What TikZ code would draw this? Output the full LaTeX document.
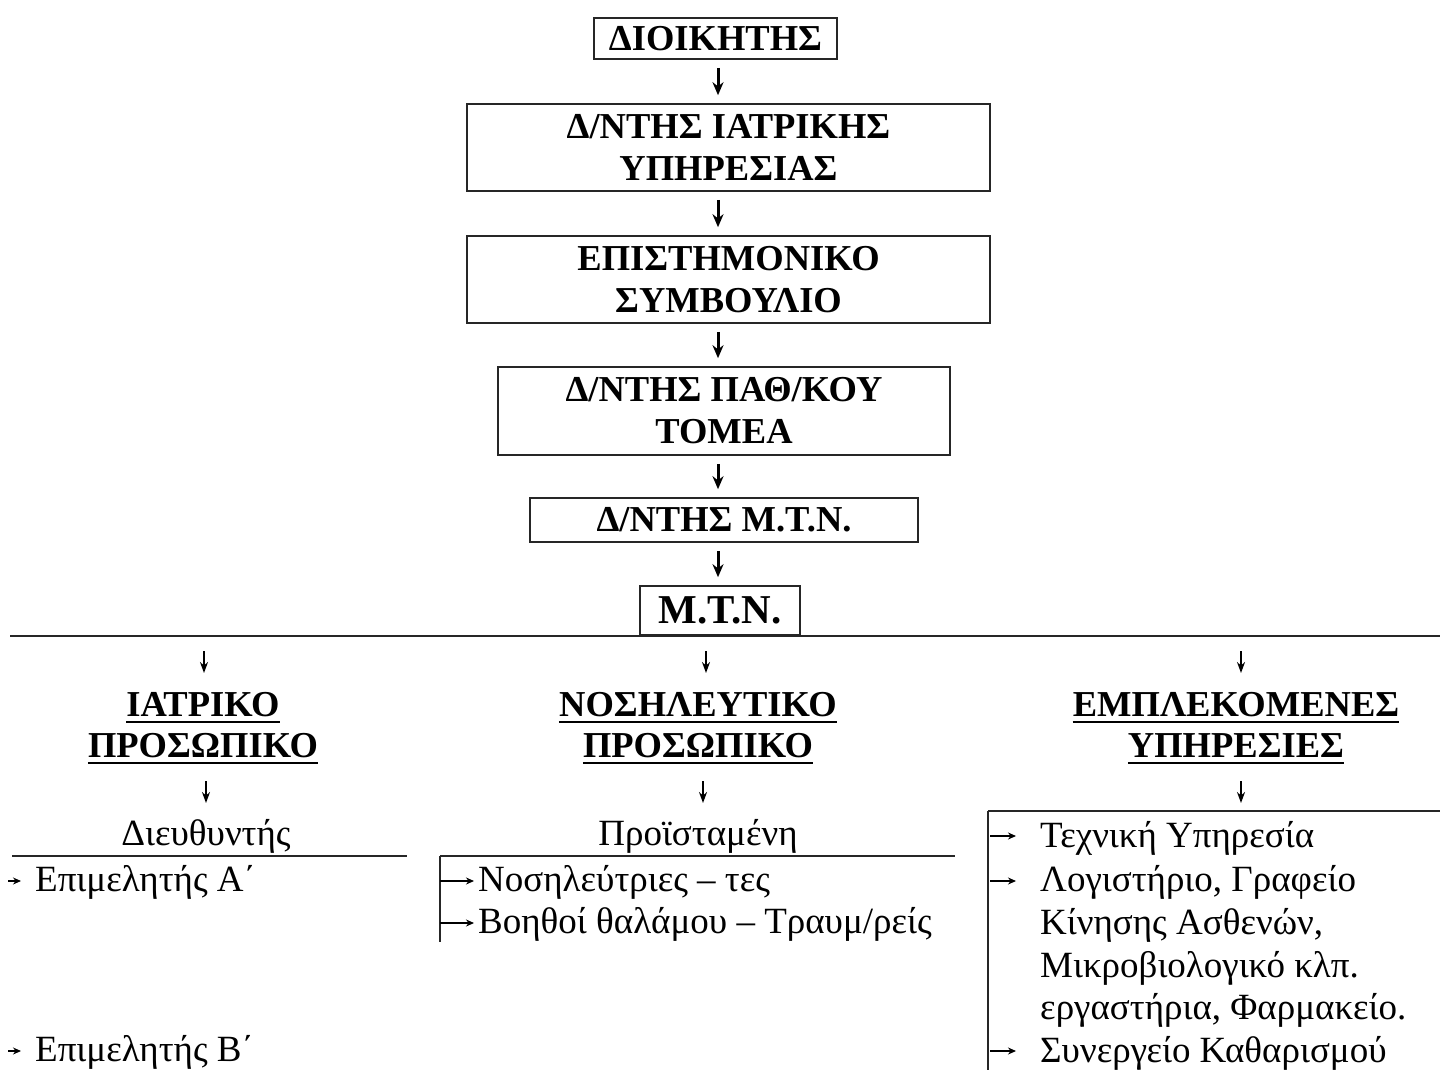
\documentclass[tikz,border=0pt]{standalone}
\usepackage{fontspec}
\setmainfont{Liberation Serif}
\usetikzlibrary{arrows.meta,calc}
\begin{document}
\begin{tikzpicture}[x=1pt,y=-1pt,
  box/.style={draw=black!85, line width=1.6pt, align=center, inner sep=0pt,
    font=\bfseries\fontsize{36.5}{42}\selectfont},
  head/.style={inner sep=0pt, anchor=base, font=\bfseries\fontsize{36.5}{42}\selectfont},
  txt/.style={inner sep=0pt, font=\fontsize{37}{42}\selectfont},
  arr/.style={-{Stealth[length=13pt,width=11pt]}, line width=3pt},
  arrthin/.style={-{Stealth[length=11pt,width=8pt]}, line width=1.8pt},
  bul/.style={-{Stealth[length=8pt,width=7pt]}, line width=1.2pt},
  rule/.style={line width=1.6pt, draw=black!85},
  ul/.style={line width=2.6pt}
]
\useasboundingbox (0,0) rectangle (1440,1070);
\fill[white] (0,0) rectangle (1440,1070);

% top chain
\coordinate (ax) at (718,0);
\node[box, minimum width=243, minimum height=41] (b1) at (715.5,38.5) {ΔΙΟΙΚΗΤΗΣ};
\node[box, minimum width=523, minimum height=87] (b2) at (728.5,147.5) {Δ/ΝΤΗΣ ΙΑΤΡΙΚΗΣ\\ΥΠΗΡΕΣΙΑΣ};
\node[box, minimum width=523, minimum height=87] (b3) at (728.5,279.5) {ΕΠΙΣΤΗΜΟΝΙΚΟ\\ΣΥΜΒΟΥΛΙΟ};
\node[box, minimum width=452, minimum height=88] (b4) at (724,411) {Δ/ΝΤΗΣ ΠΑΘ/ΚΟΥ\\ΤΟΜΕΑ};
\node[box, minimum width=388, minimum height=44] (b5) at (724,520) {Δ/ΝΤΗΣ Μ.Τ.Ν.};
\node[box, minimum width=160, minimum height=49, font=\bfseries\fontsize{41}{46}\selectfont] (b6) at (720,610.5) {Μ.Τ.Ν.};

\foreach \a/\b in {b1/b2,b2/b3,b3/b4,b4/b5,b5/b6}
  \draw[arr, shorten <=8pt, shorten >=8pt] (\a.south -| ax) -- (\b.north -| ax);

% horizontal divider
\coordinate (hl) at (10,636);
\coordinate (hr) at (1440,636);
\draw[rule] (hl) -- (hr);

% arrows to headings
\coordinate (a1s) at (204,651); \coordinate (a1e) at (204,673);
\coordinate (a2s) at (706,651); \coordinate (a2e) at (706,673);
\coordinate (a3s) at (1241,651); \coordinate (a3e) at (1241,673);
\draw[arrthin] (a1s) -- (a1e);
\draw[arrthin] (a2s) -- (a2e);
\draw[arrthin] (a3s) -- (a3e);

% headings
\node[head] (h1a) at (203,716) {ΙΑΤΡΙΚΟ};
\node[head] (h1b) at (203,757) {ΠΡΟΣΩΠΙΚΟ};
\node[head] (h2a) at (698,716) {ΝΟΣΗΛΕΥΤΙΚΟ};
\node[head] (h2b) at (698,757) {ΠΡΟΣΩΠΙΚΟ};
\node[head] (h3a) at (1236,716) {ΕΜΠΛΕΚΟΜΕΝΕΣ};
\node[head] (h3b) at (1236,757) {ΥΠΗΡΕΣΙΕΣ};
\foreach \n in {h1a,h1b,h2a,h2b,h3a,h3b}
  \draw[ul] ([yshift=-6pt]\n.base west) -- ([yshift=-6pt]\n.base east);

% arrows below headings
\coordinate (c1s) at (206,781); \coordinate (c1e) at (206,803);
\coordinate (c2s) at (703,781); \coordinate (c2e) at (703,803);
\coordinate (c3s) at (1241,781); \coordinate (c3e) at (1241,803);
\draw[arrthin] (c1s) -- (c1e);
\draw[arrthin] (c2s) -- (c2e);
\draw[arrthin] (c3s) -- (c3e);

% left column
\node[txt, anchor=base] (d1) at (206,845) {Διευθυντής};
\coordinate (l1a) at (12,856); \coordinate (l1b) at (407,856);
\draw[rule] (l1a) -- (l1b);
\coordinate (p1s) at (8,881); \coordinate (p1e) at (21,881);
\draw[bul] (p1s) -- (p1e);
\node[txt, anchor=base west] (e1) at (35,891) {Επιμελητής Α΄};
\coordinate (p2s) at (8,1051); \coordinate (p2e) at (21,1051);
\draw[bul] (p2s) -- (p2e);
\node[txt, anchor=base west] (e2) at (35,1061) {Επιμελητής Β΄};

% middle column
\node[txt, anchor=base] (d2) at (698,845) {Προϊσταμένη};
\coordinate (m1a) at (440,856); \coordinate (m1b) at (955,856);
\coordinate (m1c) at (440,942);
\draw[rule] (m1a) -- (m1b);
\draw[rule] (m1a) -- (m1c);
\coordinate (q1s) at (440,881); \coordinate (q1e) at (474,881);
\coordinate (q2s) at (440,923); \coordinate (q2e) at (474,923);
\draw[bul] (q1s) -- (q1e);
\draw[bul] (q2s) -- (q2e);
\node[txt, anchor=base west] (n1) at (478,891) {Νοσηλεύτριες – τες};
\node[txt, anchor=base west] (n2) at (478,933) {Βοηθοί θαλάμου – Τραυμ/ρείς};

% right column
\coordinate (r0) at (988,811); \coordinate (r1) at (1440,811);
\coordinate (r2) at (988,1070);
\draw[rule] (r0) -- (r1);
\draw[rule] (r0) -- (r2);
\coordinate (s1s) at (990,836); \coordinate (s1e) at (1016,836);
\coordinate (s2s) at (990,881); \coordinate (s2e) at (1016,881);
\coordinate (s3s) at (990,1051); \coordinate (s3e) at (1016,1051);
\draw[bul] (s1s) -- (s1e);
\draw[bul] (s2s) -- (s2e);
\draw[bul] (s3s) -- (s3e);
\node[txt, anchor=base west] (t1) at (1040,847) {Τεχνική Υπηρεσία};
\node[txt, anchor=base west] (t2) at (1040,891) {Λογιστήριο, Γραφείο};
\node[txt, anchor=base west] (t3) at (1040,934) {Κίνησης Ασθενών,};
\node[txt, anchor=base west] (t4) at (1040,977) {Μικροβιολογικό κλπ.};
\node[txt, anchor=base west] (t5) at (1040,1019) {εργαστήρια, Φαρμακείο.};
\node[txt, anchor=base west] (t6) at (1040,1062) {Συνεργείο Καθαρισμού};
\end{tikzpicture}
\end{document}
